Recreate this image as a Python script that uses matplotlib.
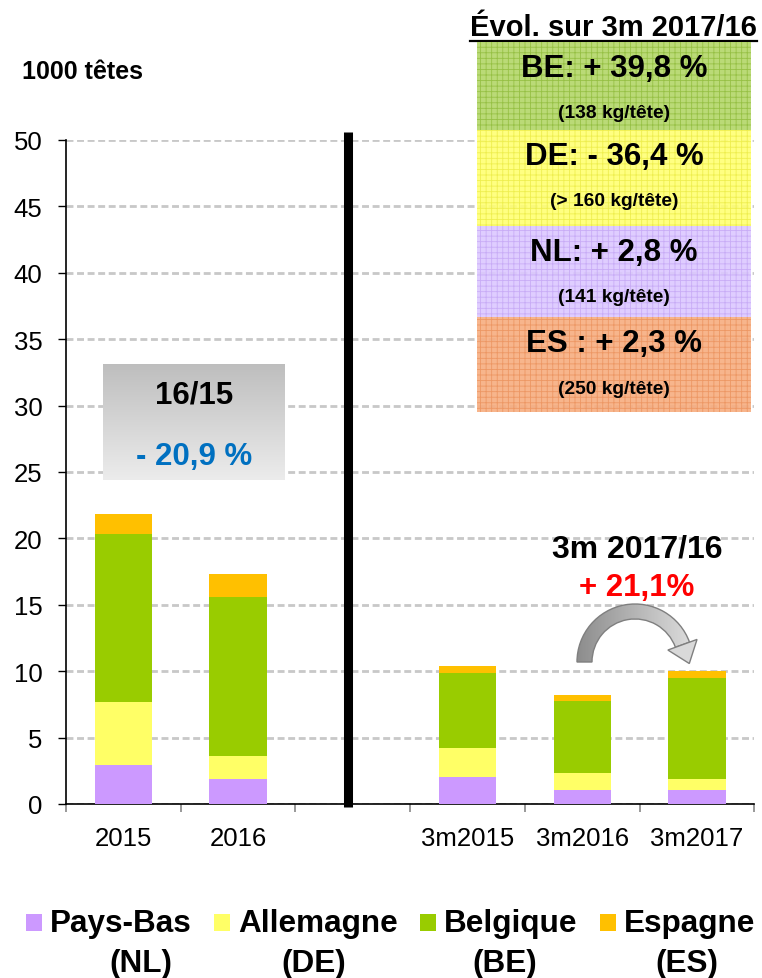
import numpy as np
import matplotlib
matplotlib.use("Agg")
import matplotlib.pyplot as plt
from matplotlib.patches import Rectangle, Wedge, Polygon
from matplotlib.lines import Line2D

plt.rcParams['font.family'] = ['Liberation Sans', 'DejaVu Sans']
plt.rcParams['hatch.linewidth'] = 0.6

# data (1000 tetes)
slots = ['2015', '2016', '', '3m2015', '3m2016', '3m2017']
series = ['Pays-Bas\n(NL)', 'Allemagne\n(DE)', 'Belgique\n(BE)', 'Espagne\n(ES)']
nl = [2.9, 1.9, 2.05, 1.05, 1.08]
de = [4.8, 1.75, 2.2, 1.28, 0.82]
be = [12.65, 11.9, 5.65, 5.45, 7.62]
es = [1.5, 1.75, 0.5, 0.45, 0.46]
colors = ['#CC99FF', '#FFFF66', '#99CC00', '#FFC000']

box_lines = [('BE: + 39,8 %', '(138 kg/tête)'),
             ('DE: - 36,4 %', '(> 160 kg/tête)'),
             ('NL: + 2,8 %', '(141 kg/tête)'),
             ('ES : + 2,3 %', '(250 kg/tête)')]
box_face = ['#B3D668', '#FFFF73', '#DCC8FF', '#F7AD80']
box_hatch = ['#93BE40', '#EDED4A', '#C6A9F5', '#EC9460']

W, H = 762, 979
fig = plt.figure(figsize=(W / 100, H / 100), dpi=100)
ax = fig.add_axes([66 / W, (H - 805) / H, (754.5 - 66) / W, (805 - 141) / H])

x = [i for i, s in enumerate(slots) if s]
bottom = np.zeros(len(x))
for vals, c in zip([nl, de, be, es], colors):
    ax.bar(x, vals, 0.5, bottom=bottom, color=c, zorder=3)
    bottom += np.array(vals)

ax.set_xlim(-0.5, len(slots) - 0.5)
ax.set_ylim(0, 50)
ax.set_yticks(range(0, 51, 5))
ax.set_xticks(range(len(slots)))
ax.set_xticklabels(slots)
ax.set_xticks(np.arange(-0.5, len(slots), 1), minor=True)
ax.tick_params(axis='x', which='major', length=0, pad=16, labelsize=18.5)
ax.tick_params(axis='x', which='minor', length=6, width=1.2, color='#888888')
ax.tick_params(axis='y', length=6, width=1, pad=11, labelsize=18.5)
ax.grid(axis='y', color='#C8C8C8', linestyle=(0, (2.5, 1.3)), linewidth=2, zorder=0)
for s in ['top', 'right']:
    ax.spines[s].set_visible(False)
for s in ['left', 'bottom']:
    ax.spines[s].set_linewidth(1.2)
# separator
ax.plot([1.96, 1.96], [-0.2, 50.6], color='black', lw=6.5, clip_on=False, zorder=4,
        solid_capstyle='butt')

# overlay in pixel coords
ov = fig.add_axes([0, 0, 1, 1])
ov.set_xlim(0, W)
ov.set_ylim(0, H)
ov.axis('off')
ov.patch.set_visible(False)


def Y(y):
    return H - y


ov.text(22, Y(72), '1000 têtes', fontsize=18, fontweight='bold', va='center', ha='left')

# gray box 16/15
grad = np.linspace(0, 1, 100)[:, None, None]
top_c = np.array([0.745, 0.745, 0.745])
bot_c = np.array([0.925, 0.925, 0.925])
img = top_c * (1 - grad) + bot_c * grad
ov.imshow(img, extent=(103, 285, Y(481), Y(365)), origin='upper', aspect='auto', zorder=2)
ov.text(194, Y(396), '16/15', fontsize=22.5, fontweight='bold', ha='center', va='center', zorder=3)
ov.text(194, Y(457), '- 20,9 %', fontsize=22.5, fontweight='bold', color='#0070C0',
        ha='center', va='center', zorder=3)

# right boxes
ov.text(613, Y(36), 'Évol. sur 3m 2017/16', fontsize=21, fontweight='bold',
        ha='center', va='baseline')
ov.add_line(Line2D([470, 757], [Y(42), Y(42)], color='black', lw=1.6))
edges = [43, 131, 227, 318, 413]
for i, (big, small) in enumerate(box_lines):
    y0, y1 = edges[i], edges[i + 1]
    r = Rectangle((477, Y(y1)), 274, y1 - y0, facecolor=box_face[i], edgecolor=box_hatch[i],
                  linewidth=0, hatch='+++', alpha=0.9, zorder=2)
    ov.add_patch(r)
    ov.text(614, Y(y0 + 26), big, fontsize=22.5, fontweight='bold', ha='center', va='center', zorder=3)
    ov.text(614, Y(y0 + 71), small, fontsize=13.8, fontweight='bold', ha='center', va='center', zorder=3)

# 3m 2017/16 annotation
ov.text(637, Y(550), '3m 2017/16', fontsize=23, fontweight='bold', ha='center', va='center')
ov.text(637, Y(588), '+ 21,1%', fontsize=22.5, fontweight='bold', color='#FF0000',
        ha='center', va='center')

cx, cy = 635, Y(663)
arc = Wedge((cx, cy), 58, 20, 180, width=15, facecolor='none', edgecolor='#7F7F7F', lw=1.0, zorder=4)
agrad = np.linspace(0, 1, 100)[None, :, None]
aimg = np.array([0.55, 0.55, 0.55]) * (1 - agrad) + np.array([0.88, 0.88, 0.88]) * agrad
im = ov.imshow(aimg, extent=(576, 698, Y(666), Y(603)), origin='upper', aspect='auto', zorder=3)
clip = Wedge((cx, cy), 58, 20, 180, width=15, transform=ov.transData)
im.set_clip_path(clip)
ov.add_patch(arc)
t = np.deg2rad(20)
rad_dir = np.array([np.cos(t), np.sin(t)])
tan_dir = np.array([np.sin(t), -np.cos(t)])
c0 = np.array([cx, cy])
head = [c0 + 35 * rad_dir, c0 + 66 * rad_dir, c0 + 50.5 * rad_dir + 20 * tan_dir]
ov.add_patch(Polygon(head, closed=True, facecolor='#D9D9D9', edgecolor='#7F7F7F', lw=1.0, zorder=5))

# legend
leg_sq = [26, 214, 420, 600]
leg_second = [141, 314, 505, 687]
for i, lab in enumerate(series):
    first, second = lab.split('\n')
    ov.add_patch(Rectangle((leg_sq[i], Y(932)), 16, 17, facecolor=colors[i], edgecolor='none'))
    ov.text(leg_sq[i] + 24, Y(924), first, fontsize=22.7, fontweight='bold', ha='left', va='center')
    ov.text(leg_second[i], Y(964), second, fontsize=22.7, fontweight='bold', ha='center', va='center')

ov.set_xlim(0, W)
ov.set_ylim(0, H)
fig.savefig('out.png', dpi=100)
